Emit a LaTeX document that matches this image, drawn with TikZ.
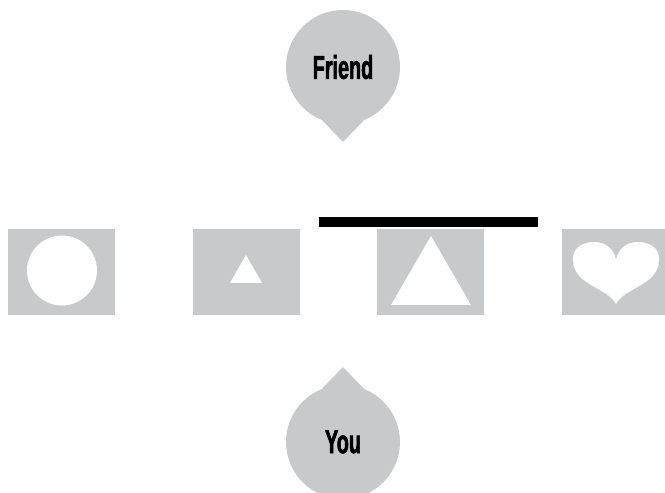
\documentclass[tikz,border=0pt]{standalone}
\usepackage{fontspec}
\newfontfamily\bubblefont[FakeStretch=0.6,FakeBold=1.8]{Liberation Sans}
\usetikzlibrary{positioning,calc}
\definecolor{tilegray}{RGB}{200,201,203}
\tikzset{
	tile/.style={shape=rectangle, fill=tilegray, minimum width=107pt, minimum height=86pt, inner sep=0},
	bubble/.style={shape=circle, fill=tilegray, minimum size=114pt, inner sep=0, font=\bubblefont\bfseries\fontsize{33}{33}\selectfont},
}

\begin{document}
\begin{tikzpicture}[x=1pt, y=1pt]
		\clip (0, 0) rectangle (665, 493);
		% speech bubbles
		\coordinate (Ftip) at (343, 351);
		\coordinate (Ytip) at (343, 126);
		\fill[tilegray] ($(343, 426) + (-112:57)$) -- (Ftip) -- ($(343, 426) + (-68:57)$) -- cycle;
		\fill[tilegray] ($(343, 51) + (112:57)$) -- (Ytip) -- ($(343, 51) + (68:57)$) -- cycle;
		\node[bubble] (friend) at (343, 426) {Friend};
		\node[bubble] (you) at (343, 51) {You};

		% tiles
		\node[tile] (T1) at (61.5, 221) {};
		\node[tile] (T2) at (246.5, 221) {};
		\node[tile] (T3) at (430.5, 221) {};
		\node[tile] (T4) at (615.5, 221) {};
		\fill[black] (319, 266) rectangle (538, 276);

		\fill[white] (62, 222.5) circle (35);
		\fill[white] (230, 210) -- (262, 210) -- (246, 238) -- cycle;
		\fill[white] (391, 188) -- (471, 188) -- (431, 257) -- cycle;
		\fill[white] (616, 189) .. controls (608, 205) and (574, 208) .. (573, 232)
			.. controls (572, 247) and (585, 251) .. (594, 251)
			.. controls (606, 251) and (614, 244) .. (616, 233)
			.. controls (618, 244) and (626, 251) .. (638, 251)
			.. controls (647, 251) and (660, 247) .. (659, 232)
			.. controls (658, 208) and (624, 205) .. (616, 189) -- cycle;
	\end{tikzpicture}
\end{document}
